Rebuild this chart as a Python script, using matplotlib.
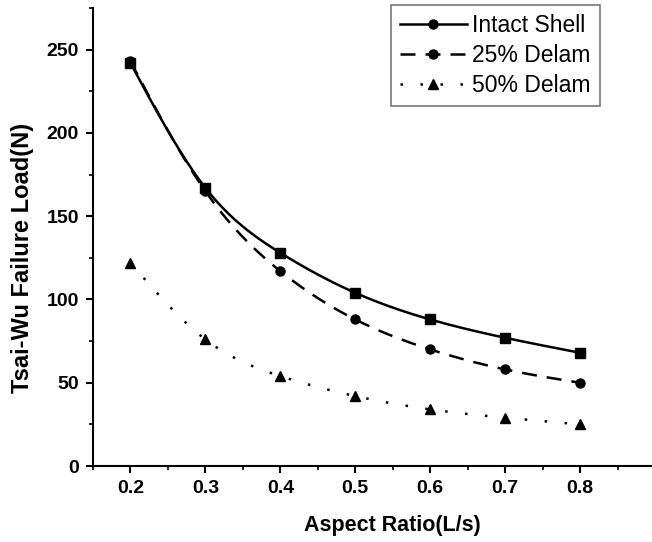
import numpy as np
import matplotlib
matplotlib.use("Agg")
import matplotlib.pyplot as plt
from matplotlib.ticker import MultipleLocator

plt.rcParams['font.family'] = ['Liberation Sans', 'DejaVu Sans']

# aspect ratio L/s and failure loads (N)
aspect_ratio = [0.2, 0.3, 0.4, 0.5, 0.6, 0.7, 0.8]
intact_shell = [242, 167, 128, 104, 88, 77, 68]
delam_25 = [243, 165, 117, 88, 70, 58, 50]
delam_50 = [122, 76, 54, 42, 34, 29, 25]
series_labels = ["Intact Shell", "25% Delam", "50% Delam"]


def natural_spline(x, y, n=200):
    # natural cubic spline through the points, for a smooth connecting line
    x = np.asarray(x, float)
    y = np.asarray(y, float)
    k = len(x)
    h = np.diff(x)
    A = np.zeros((k, k))
    b = np.zeros(k)
    A[0, 0] = A[-1, -1] = 1.0
    for i in range(1, k - 1):
        A[i, i - 1] = h[i - 1]
        A[i, i] = 2 * (h[i - 1] + h[i])
        A[i, i + 1] = h[i]
        b[i] = 6 * ((y[i + 1] - y[i]) / h[i] - (y[i] - y[i - 1]) / h[i - 1])
    M = np.linalg.solve(A, b)
    xs = np.linspace(x[0], x[-1], n)
    idx = np.clip(np.searchsorted(x, xs) - 1, 0, k - 2)
    x0, x1 = x[idx], x[idx + 1]
    hh = x1 - x0
    t0, t1 = x1 - xs, xs - x0
    ys = (M[idx] * t0**3 / (6 * hh) + M[idx + 1] * t1**3 / (6 * hh)
          + (y[idx] / hh - M[idx] * hh / 6) * t0
          + (y[idx + 1] / hh - M[idx + 1] * hh / 6) * t1)
    return xs, ys


fig = plt.figure(figsize=(6.52, 5.42), dpi=100)
ax = fig.add_axes([0.1426, 0.1402, 0.8574, 0.845])

styles = [
    dict(ls='-', marker='s', leg_marker='o'),
    dict(ls=(0, (6, 4)), marker='o', leg_marker='o'),
    dict(ls=(0, (1, 7)), marker='^', leg_marker='^'),
]
for y, lab, st in zip([intact_shell, delam_25, delam_50], series_labels, styles):
    xs, ys = natural_spline(aspect_ratio, y)
    ax.plot(xs, ys, color='black', lw=1.8, ls=st['ls'])
    ax.plot(aspect_ratio, y, color='black', lw=0, marker=st['marker'], ms=6.5)
    # legend handle combining line and marker
    ax.plot([], [], color='black', lw=1.8, ls=st['ls'], marker=st['leg_marker'],
            ms=6.5, label=lab)

ax.set_xlim(0.15, 0.896)
ax.set_ylim(0, 275)
ax.xaxis.set_major_locator(MultipleLocator(0.1))
ax.xaxis.set_minor_locator(MultipleLocator(0.05))
ax.yaxis.set_major_locator(MultipleLocator(50))
ax.yaxis.set_minor_locator(MultipleLocator(25))
ax.set_xticks([0.2, 0.3, 0.4, 0.5, 0.6, 0.7, 0.8])
ax.set_xticklabels(['0.2', '0.3', '0.4', '0.5', '0.6', '0.7', '0.8'])

for s in ['top', 'right']:
    ax.spines[s].set_visible(False)
for s in ['left', 'bottom']:
    ax.spines[s].set_linewidth(1.5)

ax.tick_params(which='major', direction='out', length=5, width=1.5,
               labelsize=14, pad=5)
ax.tick_params(which='minor', direction='out', length=3, width=1.2)
for lbl in ax.get_xticklabels() + ax.get_yticklabels():
    lbl.set_fontweight('bold')

ax.set_xlabel("Aspect Ratio(L/s)", fontsize=15.5, fontweight='bold')
ax.set_ylabel("Tsai-Wu Failure Load(N)", fontsize=17, fontweight='bold')
ax.xaxis.set_label_coords(0.535, -0.108)
ax.yaxis.set_label_coords(-0.105, 0.454)

leg = ax.legend(loc='upper right', bbox_to_anchor=(0.907, 1.007), fontsize=16.5,
                frameon=True, fancybox=False, handlelength=2.9,
                handletextpad=0.25, labelspacing=0.3, borderpad=0.4,
                borderaxespad=0.0)
leg.get_frame().set_edgecolor('#555555')
leg.get_frame().set_linewidth(1.2)

fig.savefig("out.png", dpi=100)
